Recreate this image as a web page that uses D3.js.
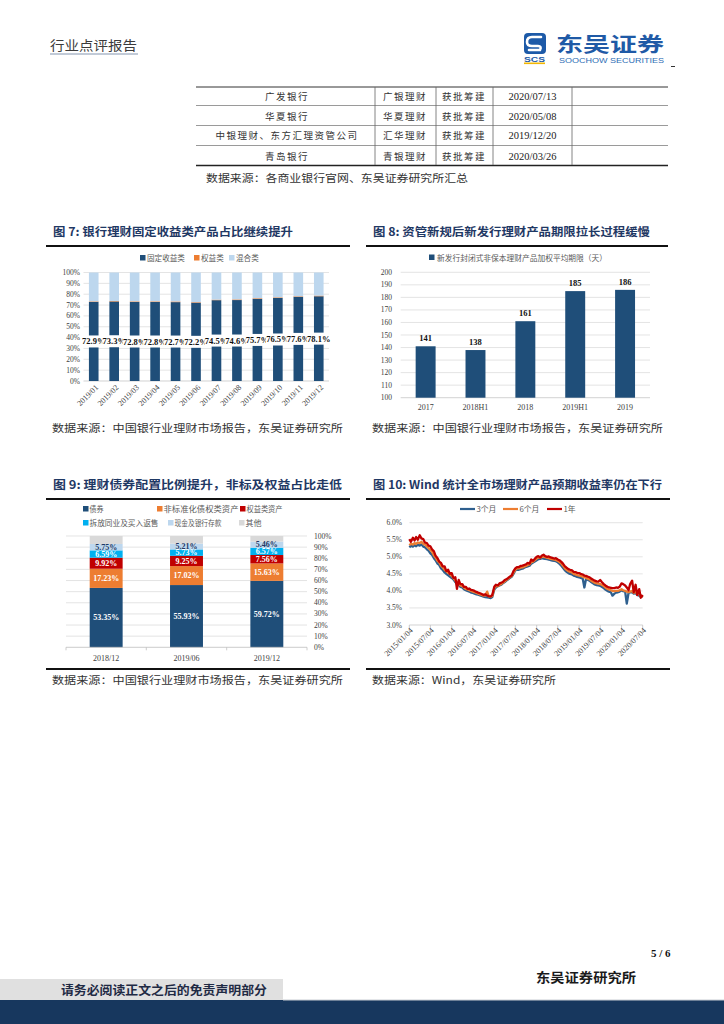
<!DOCTYPE html>
<html><head><meta charset="utf-8">
<script src="https://cdn.jsdelivr.net/npm/d3@7"></script>
<style>body{margin:0;background:#fff}svg{display:block}</style>
</head><body>
<svg id="page" width="724" height="1024"></svg>
<script>
// ---------------- DATA ----------------
const tableBanks = ["广发银行","华夏银行","中银理财、东方汇理资管公司","青岛银行"];
const tableSubs = ["广银理财","华夏理财","汇华理财","青银理财"];
const tableStatus = ["获批筹建","获批筹建","获批筹建","获批筹建"];
const tableDates = ["2020/07/13","2020/05/08","2019/12/20","2020/03/26"];

const c7Months = ["2019/01","2019/02","2019/03","2019/04","2019/05","2019/06","2019/07","2019/08","2019/09","2019/10","2019/11","2019/12"];
const c7Fixed = [72.9,73.3,72.8,72.8,72.7,72.2,74.5,74.6,75.7,76.5,77.6,78.1];
const c7Equity = [0.5,0.5,0.6,0.6,0.6,0.5,0.5,0.6,0.6,0.6,0.5,0.6];
const c7Mixed = [26.6,26.2,26.6,26.6,26.7,27.3,25.0,24.8,23.7,22.9,21.9,21.3];
const c7Names = ["固定收益类","权益类","混合类"];
const c7Ticks = [0,10,20,30,40,50,60,70,80,90,100];

const c8Periods = ["2017","2018H1","2018","2019H1","2019"];
const c8Values = [141,138,161,185,186];
const c8Name = "新发行封闭式非保本理财产品加权平均期限（天）";
const c8Ticks = [100,110,120,130,140,150,160,170,180,190,200];

const c9Periods = ["2018/12","2019/06","2019/12"];
const c9Bonds = [53.35,55.93,59.72];
const c9NonStd = [17.23,17.02,15.63];
const c9Equity = [9.92,9.25,7.56];
const c9Interbank = [6.59,5.73,6.57];
const c9Cash = [5.75,5.21,5.46];
const c9Other = [7.16,6.86,5.06];
const c9Names = ["债券","非标准化债权类资产","权益类资产","拆放同业及买入返售","现金及银行存款","其他"];
const c9Ticks = [0,10,20,30,40,50,60,70,80,90,100];

const c10Names = ["3个月","6个月","1年"];
const c10Ticks = ["2015/01/04","2015/07/04","2016/01/04","2016/07/04","2017/01/04","2017/07/04","2018/01/04","2018/07/04","2019/01/04","2019/07/04","2020/01/04","2020/07/04"];
const c10YTicks = [3.0,3.5,4.0,4.5,5.0,5.5,6.0];
const c10Dates = [
"2015-01-04","2015-01-18","2015-02-04","2015-02-18","2015-03-04","2015-03-18","2015-04-04","2015-04-18","2015-05-04","2015-05-18","2015-06-04","2015-06-18","2015-07-04","2015-07-18","2015-08-04","2015-08-18","2015-09-04","2015-09-18","2015-10-04","2015-10-18","2015-11-04","2015-11-18","2015-12-04","2015-12-18",
"2016-01-04","2016-01-18","2016-02-04","2016-02-18","2016-03-04","2016-03-18","2016-04-04","2016-04-18","2016-05-04","2016-05-18","2016-06-04","2016-06-18","2016-07-04","2016-07-18","2016-08-04","2016-08-18","2016-09-04","2016-09-18","2016-10-04","2016-10-18","2016-11-04","2016-11-18","2016-12-04","2016-12-18",
"2017-01-04","2017-01-18","2017-02-04","2017-02-18","2017-03-04","2017-03-18","2017-04-04","2017-04-18","2017-05-04","2017-05-18","2017-06-04","2017-06-18","2017-07-04","2017-07-18","2017-08-04","2017-08-18","2017-09-04","2017-09-18","2017-10-04","2017-10-18","2017-11-04","2017-11-18","2017-12-04","2017-12-18",
"2018-01-04","2018-01-18","2018-02-04","2018-02-18","2018-03-04","2018-03-18","2018-04-04","2018-04-18","2018-05-04","2018-05-18","2018-06-04","2018-06-18","2018-07-04","2018-07-18","2018-08-04","2018-08-18","2018-09-04","2018-09-18","2018-10-04","2018-10-18","2018-11-04","2018-11-18","2018-12-04","2018-12-18",
"2019-01-04","2019-01-18","2019-02-04","2019-02-18","2019-03-04","2019-03-18","2019-04-04","2019-04-18","2019-05-04","2019-05-18","2019-06-04","2019-06-18","2019-07-04","2019-07-18","2019-08-04","2019-08-18","2019-09-04","2019-09-18","2019-10-04","2019-10-18","2019-11-04","2019-11-18","2019-12-04","2019-12-18",
"2020-01-04","2020-01-18","2020-02-04","2020-02-18","2020-03-04","2020-03-18","2020-04-04","2020-04-18","2020-05-04","2020-05-18","2020-06-04","2020-06-18","2020-07-04"];
const c10M3 = [
5.28,5.32,5.30,5.34,5.31,5.35,5.33,5.36,5.30,5.28,5.22,5.18,5.10,5.06,4.96,4.90,4.80,4.76,4.66,4.62,4.54,4.50,4.46,4.42,
4.38,4.34,4.26,4.20,4.18,4.12,4.10,4.05,4.02,4.00,3.98,3.95,3.94,3.92,3.90,3.89,3.87,3.85,3.83,3.82,3.81,3.80,3.79,3.82,
4.04,4.10,4.14,4.16,4.18,4.22,4.26,4.30,4.34,4.38,4.42,4.50,4.60,4.62,4.62,4.64,4.65,4.68,4.70,4.72,4.74,4.80,4.83,4.86,
4.90,4.93,4.94,4.96,4.95,4.94,4.93,4.92,4.90,4.89,4.88,4.87,4.84,4.80,4.74,4.68,4.60,4.56,4.52,4.50,4.48,4.45,4.43,4.41,
4.40,4.38,4.36,4.10,4.34,4.33,4.30,4.26,4.22,4.19,4.17,4.16,4.15,4.12,4.08,4.04,4.00,3.98,3.96,3.86,3.92,3.95,3.96,3.98,
4.02,3.99,3.98,3.63,3.94,3.96,3.96,3.92,3.94,3.88,3.86,3.82,3.86];
const c10M6 = [
5.34,5.38,5.36,5.40,5.38,5.42,5.40,5.44,5.38,5.36,5.30,5.26,5.20,5.15,5.04,4.98,4.88,4.84,4.74,4.70,4.62,4.58,4.53,4.50,
4.44,4.38,4.30,4.26,4.24,4.16,4.14,4.10,4.06,4.04,4.02,4.00,3.98,3.96,3.94,3.92,3.90,3.88,3.86,3.87,3.98,3.84,3.83,3.86,
4.08,4.14,4.14,4.18,4.20,4.24,4.28,4.32,4.36,4.40,4.44,4.54,4.62,4.66,4.66,4.68,4.69,4.71,4.73,4.76,4.78,4.84,4.86,4.90,
4.95,4.98,4.97,5.00,5.00,4.99,4.97,4.96,4.94,4.93,4.92,4.91,4.88,4.85,4.80,4.74,4.66,4.62,4.58,4.56,4.54,4.50,4.48,4.46,
4.45,4.44,4.42,4.40,4.38,4.36,4.34,4.30,4.27,4.24,4.22,4.21,4.20,4.18,4.14,4.10,4.06,4.04,4.02,4.00,3.99,4.00,4.00,4.02,
4.05,4.02,4.00,3.98,3.96,3.98,4.00,3.94,3.98,3.90,3.92,3.84,3.82];
const c10Y1 = [
5.52,5.44,5.56,5.48,5.58,5.50,5.63,5.54,5.52,5.42,5.40,5.33,5.31,5.22,5.16,5.03,4.96,4.86,4.82,4.72,4.72,4.58,4.62,4.50,
4.52,4.38,4.40,4.06,4.32,4.20,4.20,4.12,4.12,4.06,4.07,4.03,4.02,4.00,3.97,3.95,3.93,3.91,3.88,3.90,3.86,3.85,3.84,3.88,
4.12,4.18,4.16,4.22,4.24,4.26,4.32,4.34,4.38,4.42,4.46,4.58,4.66,4.70,4.70,4.73,4.74,4.76,4.78,4.82,4.80,4.92,4.88,4.94,
5.00,5.02,4.98,5.04,5.06,5.02,5.00,5.01,4.98,4.97,4.95,4.96,4.92,4.90,4.85,4.80,4.72,4.68,4.64,4.62,4.60,4.56,4.55,4.53,
4.52,4.50,4.48,4.45,4.44,4.42,4.40,4.36,4.33,4.30,4.28,4.27,4.32,4.26,4.20,4.16,4.12,4.10,4.09,4.08,4.08,4.10,4.09,4.12,
4.22,4.20,4.16,4.10,4.02,4.20,4.30,3.96,4.18,3.88,4.05,3.80,3.88];

// ---------------- STYLE CONSTANTS ----------------
const CJK = "'Noto Sans CJK SC', sans-serif";
const SERIF = "'Liberation Serif', 'Times New Roman', serif";
const SANS = "'Liberation Sans', Arial, sans-serif";
const NAVY = "#1f3864";
const DARK = "#1f4e79";
const ORANGE = "#ed7d31";
const LIGHT = "#bdd7ee";
const GRID = "#d9d9d9";
const AXIS = "#bfbfbf";

const svg = d3.select("#page");

function txt(g, x, y, s, o) {
  o = o || {};
  const t = g.append("text").attr("x", x).attr("y", y).text(s)
    .style("font-family", o.family || CJK)
    .style("font-size", (o.size || 10) + "px")
    .style("font-weight", o.weight || 400)
    .attr("fill", o.fill || "#222")
    .attr("text-anchor", o.anchor || "start");
  if (o.len) t.attr("textLength", o.len).attr("lengthAdjust", "spacingAndGlyphs");
  if (o.ls) t.style("letter-spacing", o.ls + "px");
  return t;
}

// ---------------- HEADER ----------------
txt(svg, 50, 50, "行业点评报告", {size: 13, fill: "#3b3b3b", len: 87});
svg.append("line").attr("x1", 50).attr("x2", 138).attr("y1", 54).attr("y2", 54).attr("stroke", "#8496b0").attr("stroke-width", 1.2);

const logo = svg.append("g");
logo.append("rect").attr("x", 524).attr("y", 33).attr("width", 22).attr("height", 21).attr("rx", 4).attr("fill", "#1d5aa8");
logo.append("path").attr("d", "M541,37 L532,37 Q527,37 527,42 Q527,46 532,46 L538,46 Q542,46 540,50 L529,50")
  .attr("fill", "none").attr("stroke", "#fff").attr("stroke-width", 2.6).attr("stroke-linecap", "round");
txt(logo, 524, 61.5, "SCS", {family: SANS, size: 6.5, weight: 700, fill: "#1d5aa8", len: 21});
logo.append("rect").attr("x", 524).attr("y", 62.5).attr("width", 21).attr("height", 1.6).attr("fill", "#f2b705");
txt(logo, 556, 51.5, "东吴证券", {size: 20, weight: 700, fill: "#1f5aa6", len: 108});
txt(logo, 559, 63, "SOOCHOW SECURITIES", {family: SANS, size: 8, fill: "#2d6db5", len: 105});
svg.append("line").attr("x1", 671).attr("x2", 675).attr("y1", 66.5).attr("y2", 66.5).attr("stroke", "#333").attr("stroke-width", 1);

// ---------------- TABLE ----------------
const tbl = svg.append("g");
const rowLines = [105.5, 125.5, 145.5];
tbl.append("line").attr("x1", 196).attr("x2", 668).attr("y1", 87).attr("y2", 87).attr("stroke", "#333").attr("stroke-width", 1);
rowLines.forEach(y => tbl.append("line").attr("x1", 196).attr("x2", 668).attr("y1", y).attr("y2", y).attr("stroke", "#9a9a9a").attr("stroke-width", 1));
tbl.append("line").attr("x1", 196).attr("x2", 668).attr("y1", 165.5).attr("y2", 165.5).attr("stroke", "#222").attr("stroke-width", 1.6);
[375, 436, 493, 572].forEach(x => tbl.append("line").attr("x1", x).attr("x2", x).attr("y1", 87).attr("y2", 165).attr("stroke", "#666").attr("stroke-width", 0.8));
const rowY = [99.5, 119.5, 139, 159.5];
tableBanks.forEach((b, i) => {
  txt(tbl, 287, rowY[i], b, {size: 9.5, anchor: "middle", ls: 1.5, fill: "#333"});
  txt(tbl, 405, rowY[i], tableSubs[i], {size: 9.5, anchor: "middle", ls: 1.5, fill: "#333"});
  txt(tbl, 464, rowY[i], tableStatus[i], {size: 9.5, anchor: "middle", ls: 1.5, fill: "#333"});
  txt(tbl, 532.5, rowY[i], tableDates[i], {family: SERIF, size: 10.5, anchor: "middle", fill: "#222"});
});
txt(svg, 206, 182, "数据来源：各商业银行官网、东吴证券研究所汇总", {size: 10.5, fill: "#333", len: 262});

// ---------------- TITLES / SOURCES ----------------
function title(x, y, s, len, x1, x2) {
  txt(svg, x, y, s, {size: 11.5, weight: 700, fill: NAVY, len: len});
  svg.append("line").attr("x1", x1).attr("x2", x2).attr("y1", y + 10).attr("y2", y + 10).attr("stroke", "#111").attr("stroke-width", 1.8);
}
title(53, 236, "图 7:  银行理财固定收益类产品占比继续提升", 240, 46, 350);
title(373, 236, "图 8:  资管新规后新发行理财产品期限拉长过程缓慢", 277, 366, 668);
title(53, 489, "图 9:  理财债券配置比例提升，非标及权益占比走低", 289, 46, 350);
title(373, 489, "图 10:  Wind 统计全市场理财产品预期收益率仍在下行", 289, 366, 670);
svg.append("line").attr("x1", 46).attr("x2", 350).attr("y1", 669).attr("y2", 669).attr("stroke", "#111").attr("stroke-width", 1.8);
svg.append("line").attr("x1", 366).attr("x2", 670).attr("y1", 669).attr("y2", 669).attr("stroke", "#111").attr("stroke-width", 1.8);

txt(svg, 52, 432, "数据来源：中国银行业理财市场报告，东吴证券研究所", {size: 10.5, fill: "#333", len: 291});
txt(svg, 372, 432, "数据来源：中国银行业理财市场报告，东吴证券研究所", {size: 10.5, fill: "#333", len: 291});
txt(svg, 52, 684, "数据来源：中国银行业理财市场报告，东吴证券研究所", {size: 10.5, fill: "#333", len: 291});
txt(svg, 372, 684, "数据来源：Wind，东吴证券研究所", {size: 10.5, fill: "#333", len: 184});

// ---------------- CHART 7 ----------------
(function () {
  const g = svg.append("g");
  const x = d3.scaleBand().domain(c7Months).range([83.5, 329]).paddingInner(0.53).paddingOuter(0.265);
  const y = d3.scaleLinear().domain([0, 100]).range([381, 272.5]);
  c7Ticks.forEach(t => {
    g.append("line").attr("x1", 83.5).attr("x2", 329).attr("y1", y(t)).attr("y2", y(t))
      .attr("stroke", t === 0 ? AXIS : GRID).attr("stroke-width", 0.7);
    txt(g, 80, y(t) + 2.5, t + "%", {family: SERIF, size: 7.5, anchor: "end", fill: "#404040"});
  });
  const rows = c7Months.map((m, i) => ({m: m, "固定收益类": c7Fixed[i], "权益类": c7Equity[i], "混合类": c7Mixed[i]}));
  const stack = d3.stack().keys(c7Names)(rows);
  const cols = [DARK, ORANGE, LIGHT];
  stack.forEach((s, k) => {
    g.selectAll(null).data(s).enter().append("rect")
      .attr("x", d => x(d.data.m)).attr("width", x.bandwidth())
      .attr("y", d => y(d[1])).attr("height", d => y(d[0]) - y(d[1]))
      .attr("fill", cols[k]);
  });
  c7Months.forEach((m, i) => {
    const cx = x(m) + x.bandwidth() / 2;
    const cy = y(c7Fixed[i] / 2);
    g.append("rect").attr("x", cx - 12).attr("y", cy - 6).attr("width", 24).attr("height", 12).attr("fill", "#fff");
    txt(g, cx, cy + 3, c7Fixed[i].toFixed(1) + "%", {family: SERIF, size: 8.5, weight: 700, anchor: "middle", fill: "#111"});
  });
  c7Months.forEach(m => {
    const cx = x(m) + x.bandwidth() / 2;
    g.append("text").attr("transform", `translate(${cx + 5},${388}) rotate(-45)`)
      .attr("text-anchor", "end").style("font-family", SERIF).style("font-size", "8px").attr("fill", "#404040").text(m);
  });
  const lx = [140, 194, 229];
  c7Names.forEach((n, k) => {
    g.append("rect").attr("x", lx[k]).attr("y", 255).attr("width", 5.5).attr("height", 5.5).attr("fill", cols[k]);
    txt(g, lx[k] + 7, 261, n, {size: 7.6, fill: "#595959"});
  });
})();

// ---------------- CHART 8 ----------------
(function () {
  const g = svg.append("g");
  const x = d3.scaleBand().domain(c8Periods).range([400.7, 650]).paddingInner(0.6).paddingOuter(0.3);
  const y = d3.scaleLinear().domain([100, 200]).range([397.7, 272.3]);
  c8Ticks.forEach(t => {
    g.append("line").attr("x1", 400.7).attr("x2", 650).attr("y1", y(t)).attr("y2", y(t))
      .attr("stroke", t === 100 ? AXIS : GRID).attr("stroke-width", 0.7);
    txt(g, 392, y(t) + 2.5, String(t), {family: SERIF, size: 7.5, anchor: "end", fill: "#404040"});
  });
  g.selectAll(null).data(c8Periods).enter().append("rect")
    .attr("x", d => x(d)).attr("width", x.bandwidth())
    .attr("y", (d, i) => y(c8Values[i])).attr("height", (d, i) => y(100) - y(c8Values[i]))
    .attr("fill", DARK);
  c8Periods.forEach((p, i) => {
    const cx = x(p) + x.bandwidth() / 2;
    txt(g, cx, y(c8Values[i]) - 5, String(c8Values[i]), {family: SERIF, size: 8.5, weight: 700, anchor: "middle", fill: "#111"});
    txt(g, cx, 409.5, p, {family: SERIF, size: 8, anchor: "middle", fill: "#404040"});
  });
  g.append("rect").attr("x", 429).attr("y", 254.5).attr("width", 5.5).attr("height", 5.5).attr("fill", DARK);
  txt(g, 437, 260.5, c8Name, {size: 7.8, fill: "#595959", len: 170});
})();

// ---------------- CHART 9 ----------------
(function () {
  const g = svg.append("g");
  const x = d3.scaleBand().domain(c9Periods).range([66, 307]).paddingInner(0.59).paddingOuter(0.295);
  const y = d3.scaleLinear().domain([0, 100]).range([647.3, 536]);
  c9Ticks.forEach(t => {
    if (t > 0) g.append("line").attr("x1", 66).attr("x2", 307).attr("y1", y(t)).attr("y2", y(t)).attr("stroke", GRID).attr("stroke-width", 0.7);
    txt(g, 314, y(t) + 2.5, t + "%", {family: SERIF, size: 7.5, fill: "#404040"});
  });
  const cols = [DARK, ORANGE, "#c00000", "#00b0f0", LIGHT, GRID];
  const series = [c9Bonds, c9NonStd, c9Equity, c9Interbank, c9Cash, c9Other];
  const rows = c9Periods.map((p, i) => {
    const r = {p: p};
    c9Names.forEach((n, k) => r[n] = series[k][i]);
    return r;
  });
  const stack = d3.stack().keys(c9Names)(rows);
  stack.forEach((s, k) => {
    g.selectAll(null).data(s).enter().append("rect")
      .attr("x", d => x(d.data.p)).attr("width", x.bandwidth())
      .attr("y", d => y(d[1])).attr("height", d => y(d[0]) - y(d[1]))
      .attr("fill", cols[k]);
  });
  stack.forEach((s, k) => {
    if (k === 5) return;
    s.forEach(d => {
      const cx = x(d.data.p) + x.bandwidth() / 2;
      txt(g, cx, y((d[0] + d[1]) / 2) + 2.8, d.data[c9Names[k]].toFixed(2) + "%",
        {family: SERIF, size: 8, weight: 700, anchor: "middle", fill: k === 4 ? NAVY : "#fff"});
    });
  });
  g.append("line").attr("x1", 66).attr("x2", 307).attr("y1", y(0)).attr("y2", y(0)).attr("stroke", AXIS).attr("stroke-width", 0.8);
  [66, 146.3, 226.7, 307].forEach(xx => g.append("line").attr("x1", xx).attr("x2", xx).attr("y1", y(0)).attr("y2", y(0) + 3).attr("stroke", AXIS).attr("stroke-width", 0.8));
  c9Periods.forEach(p => txt(g, x(p) + x.bandwidth() / 2, 660.5, p, {family: SERIF, size: 8, anchor: "middle", fill: "#404040"}));
  const pos = [[83, 509], [157, 509], [240, 509], [83, 523], [168, 523], [239, 523]];
  const lens = [14, 75, 36, 69, 47, 16];
  c9Names.forEach((n, k) => {
    g.append("rect").attr("x", pos[k][0]).attr("y", pos[k][1] - 3).attr("width", 5.5).attr("height", 5.5).attr("fill", cols[k]);
    txt(g, pos[k][0] + 6.5, pos[k][1] + 3, n, {size: 7.6, fill: "#595959", len: lens[k]});
  });
})();

// ---------------- CHART 10 ----------------
(function () {
  const g = svg.append("g");
  const parseT = d3.timeParse("%Y/%m/%d");
  const parseD = d3.timeParse("%Y-%m-%d");
  const x = d3.scaleTime().domain([parseT(c10Ticks[0]), parseT(c10Ticks[c10Ticks.length - 1])]).range([409.3, 642.7]);
  const y = d3.scaleLinear().domain([3, 6]).range([625, 522.7]);
  c10YTicks.forEach(t => {
    g.append("line").attr("x1", 409.3).attr("x2", 642.7).attr("y1", y(t)).attr("y2", y(t))
      .attr("stroke", t === 3 ? AXIS : GRID).attr("stroke-width", 0.7);
    txt(g, 402, y(t) + 2.5, t.toFixed(1) + "%", {family: SERIF, size: 7.5, anchor: "end", fill: "#404040"});
  });
  c10Ticks.forEach(s => {
    const xx = x(parseT(s));
    g.append("line").attr("x1", xx).attr("x2", xx).attr("y1", y(3)).attr("y2", y(3) + 3).attr("stroke", AXIS).attr("stroke-width", 0.8);
    g.append("text").attr("transform", `translate(${xx + 4},${631}) rotate(-45)`)
      .attr("text-anchor", "end").style("font-family", SERIF).style("font-size", "8px").attr("fill", "#404040").text(s);
  });
  const dates = c10Dates.map(parseD);
  const line = d3.line().x((d, i) => x(dates[i])).y(d => y(d));
  const cols = ["#2e5f8e", ORANGE, "#c00000"];
  [c10M3, c10M6, c10Y1].forEach((s, k) => {
    g.append("path").datum(s).attr("d", line).attr("fill", "none").attr("stroke", cols[k])
      .attr("stroke-width", 2.3).attr("stroke-linejoin", "round");
  });
  const lx = [460, 503, 547];
  c10Names.forEach((n, k) => {
    g.append("line").attr("x1", lx[k]).attr("x2", lx[k] + 15).attr("y1", 509).attr("y2", 509).attr("stroke", cols[k]).attr("stroke-width", 2.2);
    txt(g, lx[k] + 16.5, 512, n, {size: 7.8, fill: "#595959"});
  });
})();

// ---------------- FOOTER ----------------
txt(svg, 651, 957, "5 / 6", {family: SERIF, size: 11, weight: 700, fill: "#111"});
txt(svg, 536, 982, "东吴证券研究所", {size: 13, weight: 700, fill: "#1a1a1a", len: 100});
svg.append("rect").attr("x", 0).attr("y", 979).attr("width", 283).attr("height", 22).attr("fill", "#e0e0e0");
svg.append("rect").attr("x", 0).attr("y", 1000).attr("width", 724).attr("height", 24).attr("fill", "#17375e");
svg.append("line").attr("x1", 283).attr("x2", 724).attr("y1", 1000).attr("y2", 1000).attr("stroke", "#c8ccd2").attr("stroke-width", 1);
txt(svg, 61, 995, "请务必阅读正文之后的免责声明部分", {size: 12, weight: 700, fill: "#1f2a44", len: 206});
</script>
</body></html>
